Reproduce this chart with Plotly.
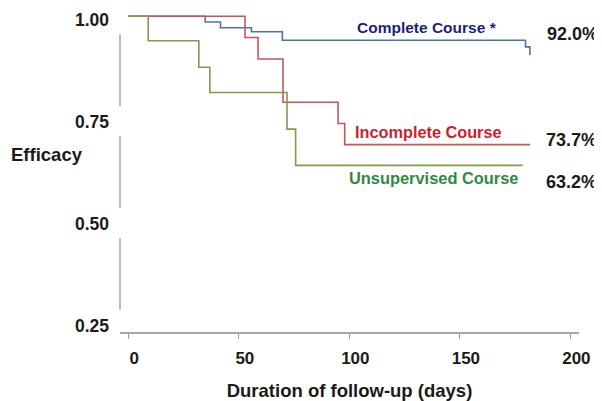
import plotly.graph_objects as go

# ---- data ----
series_names = ["Complete Course *", "Incomplete Course", "Unsupervised Course"]
final_pct = ["92.0%", "73.7%", "63.2%"]

complete_days = [0, 34.8, 41.7, 55.7, 69.7, 179.7, 181.7]
complete_eff = [1.0, 0.986, 0.972, 0.962, 0.941, 0.925, 0.905]

incomplete_days = [0, 52.8, 58.7, 70.0, 94.9, 97.9, 181.7]
incomplete_eff = [1.0, 0.948, 0.895, 0.789, 0.737, 0.685, 0.685]

unsup_days = [0, 9.0, 31.9, 36.9, 71.8, 75.7, 178.4]
unsup_eff = [1.0, 0.940, 0.875, 0.813, 0.723, 0.634, 0.634]

x_ticks = [0, 50, 100, 150, 200]
y_ticks = [0.25, 0.50, 0.75, 1.00]
y_ticklabels = ["0.25", "0.50", "0.75", "1.00"]

line_colors = ["#4f72a8", "#c9555a", "#7f9b4e"]
label_colors = ["#1c1f78", "#cc1f2d", "#2e8b3f"]

FONT = "Liberation Sans, Arial, sans-serif"

fig = go.Figure()
for days, eff, name, col in [
    (complete_days, complete_eff, series_names[0], line_colors[0]),
    (incomplete_days, incomplete_eff, series_names[1], line_colors[1]),
    (unsup_days, unsup_eff, series_names[2], line_colors[2]),
]:
    fig.add_trace(go.Scatter(x=days, y=eff, mode="lines", line_shape="hv",
                             line=dict(color=col, width=1.6), name=name,
                             showlegend=False, hoverinfo="skip"))

# series labels and final percentages
lab_pos = [(0.669, 0.953), (0.673, 0.624), (0.684, 0.481)]
lab_size = [15.5, 16.3, 16.4]
pct_pos = [(0.985, 0.932), (0.984, 0.600), (0.984, 0.468)]
for i in range(3):
    fig.add_annotation(xref="paper", yref="paper", x=lab_pos[i][0], y=lab_pos[i][1],
                       text=series_names[i], showarrow=False, xanchor="center", yanchor="middle",
                       font=dict(family=FONT, size=lab_size[i], color=label_colors[i], weight="bold"))
    fig.add_annotation(xref="paper", yref="paper", x=pct_pos[i][0], y=pct_pos[i][1],
                       text=final_pct[i], showarrow=False, xanchor="center", yanchor="middle",
                       font=dict(family=FONT, size=18, color="#1a1a1a", weight="bold"))

# y-axis title (horizontal)
fig.add_annotation(xref="paper", yref="paper", x=-0.158, y=0.5545, text="Efficacy",
                   showarrow=False, xanchor="center", yanchor="middle",
                   font=dict(family=FONT, size=18.5, color="#1a1a1a", weight="bold"))

# broken y-axis line between tick labels
for lo, hi in zip(y_ticks[:-1], y_ticks[1:]):
    fig.add_shape(type="line", xref="paper", yref="y", x0=0, x1=0,
                  y0=lo + 0.03, y1=hi - 0.045, line=dict(color="#a6a6a6", width=1.5))

fig.update_layout(
    width=594, height=393,
    margin=dict(l=112, r=23, t=2, b=69),
    paper_bgcolor="white", plot_bgcolor="white",
    xaxis=dict(range=[-3.76, 203.9], tickvals=x_ticks, ticks="outside", ticklen=5,
               tickcolor="#999999", tickwidth=1.2, showline=True, linecolor="#a6a6a6",
               linewidth=1.5, showgrid=False, zeroline=False,
               ticklabelshift=6, ticklabelstandoff=5,
               tickfont=dict(family=FONT, size=17, color="#1a1a1a", weight="bold"),
               title=dict(text="Duration of follow-up (days)", standoff=17,
                          font=dict(family=FONT, size=18.5, color="#1a1a1a", weight="bold"))),
    yaxis=dict(range=[0.2251, 1.0105], tickvals=y_ticks, ticktext=y_ticklabels,
               ticks="", showline=False, showgrid=False, zeroline=False,
               ticklabelstandoff=10, ticklabelshift=4,
               tickfont=dict(family=FONT, size=17.5, color="#1a1a1a", weight="bold")),
)

fig.write_html("out.html")
